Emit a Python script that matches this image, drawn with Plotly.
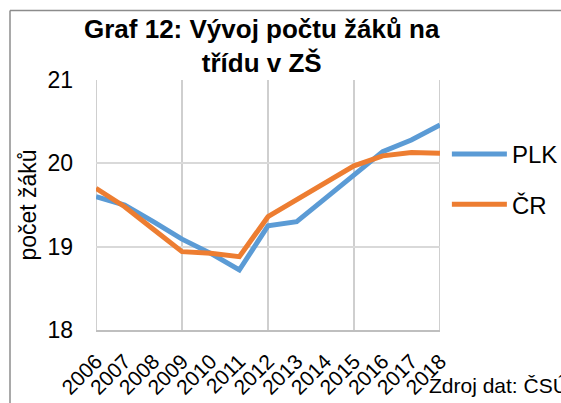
import plotly.graph_objects as go

years = [2006, 2007, 2008, 2009, 2010, 2011, 2012, 2013, 2014, 2015, 2016, 2017, 2018]
plk = [19.60, 19.50, 19.30, 19.09, 18.92, 18.72, 19.25, 19.30, 19.58, 19.86, 20.14, 20.28, 20.46]
cr = [19.70, 19.48, 19.21, 18.94, 18.92, 18.88, 19.36, 19.56, 19.76, 19.97, 20.09, 20.13, 20.12]
series_names = ["PLK", "ČR"]
series_colors = ["#5B9BD5", "#ED7D31"]
x_grid_years = [2006, 2009, 2012, 2015, 2018]
y_ticks = [18, 19, 20, 21]
title_text = "<b>Graf 12: Vývoj počtu žáků na<br>třídu v ZŠ</b>"
source_text = "Zdroj dat: ČSÚ"

W, H = 561, 403
L, R, T, B = 96, 121, 80, 73
FONT = "Liberation Sans, Arial, sans-serif"

fig = go.Figure()
for i, (name, vals) in enumerate(zip(series_names, [plk, cr])):
    fig.add_trace(go.Scatter(
        x=years, y=vals, mode="lines", name=name,
        line=dict(color=series_colors[i], width=5),
        legendgroup=name,
    ))

shapes = []
for yr in x_grid_years:
    shapes.append(dict(type="line", xref="x", yref="paper", x0=yr, x1=yr, y0=0, y1=1,
                       line=dict(color="#BFBFBF", width=1.5), layer="below"))
# outer chart border (left and top edges visible)
pw, ph = W - L - R, H - T - B
bx = (10 - L) / pw
by = 1 + (T - 10.5) / ph
shapes.append(dict(type="line", xref="paper", yref="paper", x0=bx, x1=bx, y0=-0.4, y1=by,
                   line=dict(color="#8C8C8C", width=1.5)))
shapes.append(dict(type="line", xref="paper", yref="paper", x0=bx, x1=1.4, y0=by, y1=by,
                   line=dict(color="#8C8C8C", width=1.5)))

fig.update_layout(
    width=W, height=H,
    margin=dict(l=L, r=R, t=T, b=B, autoexpand=False),
    paper_bgcolor="white", plot_bgcolor="white",
    font=dict(family=FONT, color="black", size=21),
    xaxis=dict(range=[2006, 2018], tickvals=years, ticktext=[str(y) for y in years],
               tickangle=-45, showgrid=False, zeroline=False,
               showline=True, linecolor="#BFBFBF", linewidth=1.5,
               ticks="", ticklabelstandoff=9,
               tickfont=dict(size=21, family=FONT, color="black")),
    yaxis=dict(range=[18, 21], tickvals=y_ticks, showgrid=True, gridcolor="#D9D9D9",
               gridwidth=1.5, zeroline=False, showline=False, ticks="",
               ticklabelstandoff=22,
               tickfont=dict(size=23, family=FONT, color="black"),
               title=dict(text="počet žáků", standoff=4,
                          font=dict(size=23, family=FONT, color="black"))),
    legend=dict(x=1.02, xanchor="left", y=(330 - 132) / ph, yanchor="top",
                font=dict(size=24, family=FONT, color="black"),
                tracegroupgap=16, itemwidth=55, bgcolor="rgba(0,0,0,0)"),
    shapes=shapes,
    annotations=[
        dict(text=title_text, xref="paper", yref="paper",
             x=(262 - L) / pw, y=1.0, xanchor="center", yanchor="bottom",
             showarrow=False, font=dict(size=26, family=FONT, color="black")),
        dict(text=source_text, xref="paper", yref="paper",
             x=(427 - L) / pw, y=(330 - 385) / ph, xanchor="left", yanchor="middle",
             showarrow=False, font=dict(size=21, family=FONT, color="black")),
    ],
)

fig.write_html("out.html", config={"displayModeBar": False},
               post_script="document.body.style.margin='0';")
